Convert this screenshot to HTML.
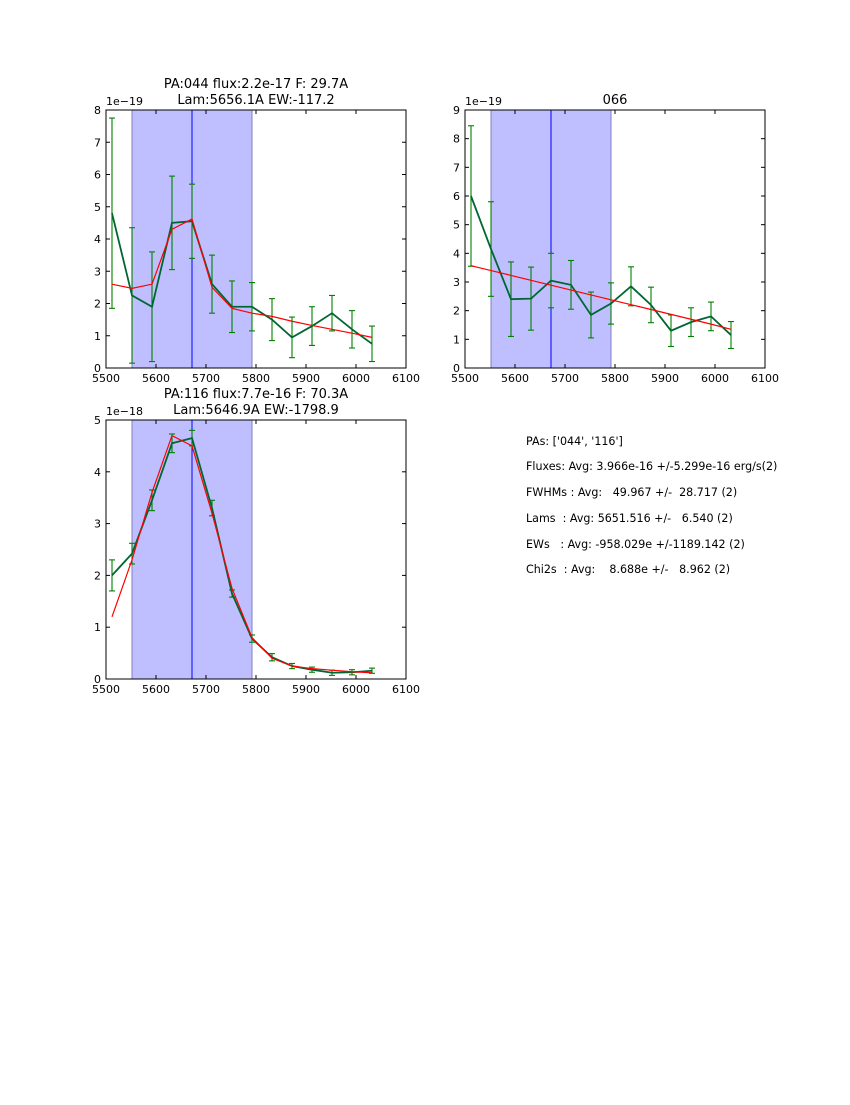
<!DOCTYPE html>
<html><head><meta charset="utf-8">
<style>
body{margin:0;background:#fff;}
svg text{font-family:"DejaVu Sans","Liberation Sans",sans-serif;}
</style></head>
<body>
<svg id="fig" width="850" height="1100" xmlns="http://www.w3.org/2000/svg">
<g font-size="11.1" fill="#000" style="white-space:pre">
<text x="526" y="445" xml:space="preserve">PAs: ['044', '116']</text>
<text x="526" y="470" xml:space="preserve">Fluxes: Avg: 3.966e-16 +/-5.299e-16 erg/s(2)</text>
<text x="526" y="496" xml:space="preserve">FWHMs : Avg:   49.967 +/-  28.717 (2)</text>
<text x="526" y="522" xml:space="preserve">Lams  : Avg: 5651.516 +/-   6.540 (2)</text>
<text x="526" y="548" xml:space="preserve">EWs   : Avg: -958.029e +/-1189.142 (2)</text>
<text x="526" y="573" xml:space="preserve">Chi2s  : Avg:    8.688e +/-   8.962 (2)</text>
</g>
</svg>
<script>
const wavelengths=[5512,5552,5592,5632,5672,5712,5752,5792,5832,5872,5912,5952,5992,6032];
const flux044=[4.8,2.25,1.9,4.5,4.55,2.6,1.9,1.9,1.5,0.95,1.3,1.7,1.2,0.75];
const err044=[2.95,2.1,1.7,1.45,1.15,0.9,0.8,0.75,0.65,0.63,0.6,0.55,0.58,0.55];
const fit044=[2.6,2.47,2.6,4.3,4.62,2.5,1.85,1.7,1.6,1.45,1.32,1.2,1.08,0.95];
const flux066=[6.0,4.15,2.4,2.42,3.05,2.9,1.85,2.25,2.85,2.2,1.3,1.6,1.8,1.15];
const err066=[2.45,1.65,1.3,1.1,0.95,0.85,0.8,0.72,0.68,0.62,0.55,0.5,0.5,0.47];
const fit066=[3.57,3.4,3.23,3.06,2.89,2.72,2.55,2.38,2.21,2.04,1.87,1.7,1.53,1.35];
const flux116=[2.0,2.42,3.45,4.55,4.65,3.3,1.65,0.78,0.42,0.25,0.18,0.12,0.13,0.16];
const err116=[0.3,0.2,0.2,0.18,0.15,0.15,0.07,0.07,0.07,0.05,0.05,0.05,0.05,0.05];
const fit116=[1.2,2.3,3.6,4.7,4.5,3.2,1.75,0.8,0.4,0.25,0.2,0.17,0.14,0.12];
const xTicks=[5500,5600,5700,5800,5900,6000,6100];
const bandStart=5552, bandEnd=5792, lineCenter=5672;

const NS='http://www.w3.org/2000/svg';
const svg=document.getElementById('fig');
function mk(tag,attrs,parent){const e=document.createElementNS(NS,tag);for(const k in attrs)e.setAttribute(k,attrs[k]);(parent||svg).appendChild(e);return e;}

function panel(name,L,T,W,H,ymax,exp,titles,flux,err,fit){
  const g=mk('g',{});
  
  
  const xs=v=>L+(v-5500)/600*W;
  const ys=v=>T+H-v/ymax*H;
  const band=mk('rect',{x:xs(bandStart),y:T,width:xs(bandEnd)-xs(bandStart),height:H,fill:'#bfbfff',stroke:'#7f7fbf','stroke-width':1},g);
  
  
  const cl=mk('line',{x1:xs(lineCenter),x2:xs(lineCenter),y1:T,y2:T+H,stroke:'#0000ff','stroke-width':1},g);
  
  
  const eb=mk('g',{stroke:'#008000','stroke-width':1.1,fill:'none'},g);
  
  
  wavelengths.forEach((w,i)=>{
    const x=xs(w),y1=ys(Math.max(0,flux[i]-err[i])),y2=ys(Math.min(ymax,flux[i]+err[i]));
    mk('line',{x1:x,x2:x,y1:y1,y2:y2},eb);
    mk('line',{x1:x-3,x2:x+3,y1:y1,y2:y1},eb);
    mk('line',{x1:x-3,x2:x+3,y1:y2,y2:y2},eb);
  });
  const dp=wavelengths.map((w,i)=>xs(w)+','+ys(flux[i])).join(' ');
  const dl=mk('polyline',{points:dp,fill:'none',stroke:'#006633','stroke-width':1.8},g);
  
  
  const fp=wavelengths.map((w,i)=>xs(w)+','+ys(fit[i])).join(' ');
  const fl=mk('polyline',{points:fp,fill:'none',stroke:'#ff0000','stroke-width':1.2},g);
  
  
  const fr=mk('rect',{x:L,y:T,width:W,height:H,fill:'none',stroke:'#000','stroke-width':1},g);
  
  
  xTicks.forEach(t=>{
    const x=xs(t);
    mk('line',{x1:x,x2:x,y1:T+H,y2:T+H-4,stroke:'#000'},g);
    mk('line',{x1:x,x2:x,y1:T,y2:T+4,stroke:'#000'},g);
    const tx=mk('text',{x:x,y:T+H+14,'font-size':11,'text-anchor':'middle'},g);
    tx.textContent=t;
    
    
  });
  for(let v=0;v<=ymax;v++){
    const y=ys(v);
    mk('line',{x1:L,x2:L+4,y1:y,y2:y,stroke:'#000'},g);
    mk('line',{x1:L+W,x2:L+W-4,y1:y,y2:y,stroke:'#000'},g);
    const ty=mk('text',{x:L-5,y:y+4,'font-size':11,'text-anchor':'end'},g);
    ty.textContent=v;
    
    
  }
  const ex=mk('text',{x:L,y:T-5,'font-size':11},g);
  ex.textContent='1e\u2212'+exp;
  
  
  titles.forEach((s,i)=>{
    const tt=mk('text',{x:L+W/2,y:T-(titles.length-i-1)*16-6,'font-size':13,'text-anchor':'middle'},g);
    tt.textContent=s;
    
    
  });
}
panel('panel-044',106,110,300,258,8,19,['PA:044 flux:2.2e-17 F: 29.7A','Lam:5656.1A EW:-117.2'],flux044,err044,fit044);
panel('panel-066',465,110,300,258,9,19,['066'],flux066,err066,fit066);
panel('panel-116',106,420,300,259,5,18,['PA:116 flux:7.7e-16 F: 70.3A','Lam:5646.9A EW:-1798.9'],flux116,err116,fit116);
</script>
</body></html>
